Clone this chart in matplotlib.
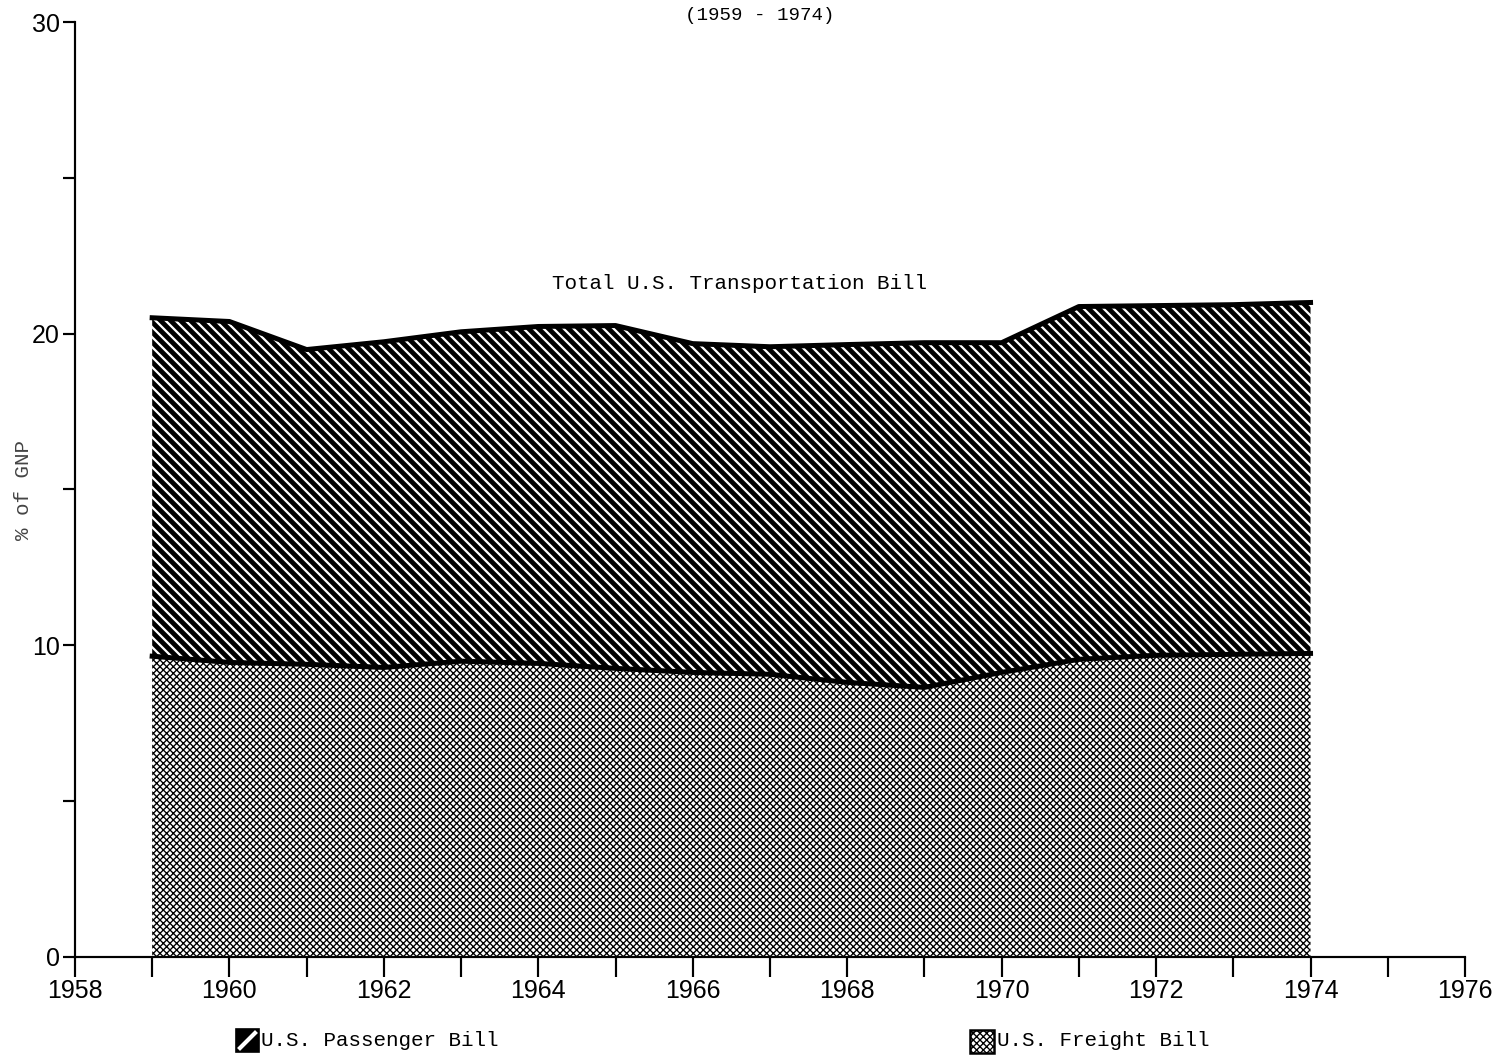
import matplotlib
matplotlib.use("Agg")
import matplotlib.pyplot as plt
from matplotlib.patches import Rectangle
from matplotlib.lines import Line2D

# share of GNP, per cent
years = [1959, 1960, 1961, 1962, 1963, 1964, 1965, 1966,
         1967, 1968, 1969, 1970, 1971, 1972, 1973, 1974]
freight = [9.65, 9.45, 9.39, 9.29, 9.49, 9.42, 9.26, 9.13,
           9.07, 8.81, 8.65, 9.13, 9.55, 9.68, 9.71, 9.74]
passenger = [10.86, 10.94, 10.10, 10.45, 10.57, 10.81, 11.00, 10.55,
             10.51, 10.84, 11.06, 10.58, 11.32, 11.22, 11.22, 11.26]

x_ticks = list(range(1958, 1977))
x_labels = [str(y) if y % 2 == 0 else "" for y in x_ticks]
y_ticks = [0, 5, 10, 15, 20, 25, 30]
y_labels = ["0", "", "10", "", "20", "", "30"]

total = [f + p for f, p in zip(freight, passenger)]

sans = ["Liberation Sans", "DejaVu Sans"]
mono = ["Liberation Mono", "DejaVu Sans Mono"]

FINE_LW = 0.8    # crosshatch line width
STRIPE_LW = 2.9  # diagonal stripe width

fig = plt.figure(figsize=(1499 / 120, 1058 / 120), dpi=120)
ax = fig.add_axes([0.050, 0.0955, 0.9273, 0.8837])

# freight: fine crosshatch
with plt.rc_context({"hatch.linewidth": FINE_LW}):
    f1 = ax.fill_between(years, 0, freight, facecolor="white",
                         edgecolor="black", hatch="xxxxxx", linewidth=0)
    if hasattr(f1, "set_hatch_linewidth"):
        f1.set_hatch_linewidth(FINE_LW)

# passenger: heavy diagonal stripes
with plt.rc_context({"hatch.linewidth": STRIPE_LW}):
    f2 = ax.fill_between(years, freight, total, facecolor="white",
                         edgecolor="black", hatch="\\\\\\\\", linewidth=0)
    if hasattr(f2, "set_hatch_linewidth"):
        f2.set_hatch_linewidth(STRIPE_LW)

ax.plot(years, total, color="black", lw=3.0, solid_joinstyle="round")
ax.plot(years, freight, color="black", lw=3.0, solid_joinstyle="round")

ax.text(1966.6, 21.6, "Total U.S. Transportation Bill", ha="center",
        va="center", fontsize=12.5, family=mono)

ax.set_xlim(1958, 1976)
ax.set_ylim(0, 30)
ax.set_xticks(x_ticks)
ax.set_xticklabels(x_labels, family=sans, fontsize=15)
ax.set_yticks(y_ticks)
ax.set_yticklabels(y_labels, family=sans, fontsize=15)
ax.tick_params(axis="x", direction="out", length=12, width=1.3, pad=1)
ax.tick_params(axis="y", direction="out", length=7, width=1.3, pad=2)
for side in ["top", "right"]:
    ax.spines[side].set_visible(False)
for side in ["left", "bottom"]:
    ax.spines[side].set_linewidth(1.3)

fig.text(0.016, 0.537, "% of GNP", rotation=90, ha="center", va="center",
         fontsize=12.5, family=mono, color="#444444")
fig.text(0.507, 0.985, "(1959 - 1974)", ha="center", va="center",
         fontsize=11.5, family=mono)

# legend keys along the bottom
W, H = 1499.0, 1058.0
key_p = Rectangle((236 / W, 1 - 1052 / H), 23 / W, 23 / H,
                  transform=fig.transFigure, facecolor="black",
                  edgecolor="black", lw=1)
fig.add_artist(key_p)
fig.add_artist(Line2D([240 / W, 255 / W], [1 - 1048 / H, 1 - 1033 / H],
                      transform=fig.transFigure, color="white", lw=2.5))
fig.text(261 / W, 1 - 1041 / H, "U.S. Passenger Bill", ha="left",
         va="center", fontsize=12.5, family=mono)

with plt.rc_context({"hatch.linewidth": FINE_LW}):
    key_f = Rectangle((970 / W, 1 - 1053 / H), 24 / W, 23 / H,
                      transform=fig.transFigure, facecolor="white",
                      edgecolor="black", hatch="xxxxxx", lw=1.5)
    if hasattr(key_f, "set_hatch_linewidth"):
        key_f.set_hatch_linewidth(FINE_LW)
    fig.add_artist(key_f)
fig.text(997 / W, 1 - 1041 / H, "U.S. Freight Bill", ha="left",
         va="center", fontsize=12.5, family=mono)

fig.savefig("out.png", dpi=120)
